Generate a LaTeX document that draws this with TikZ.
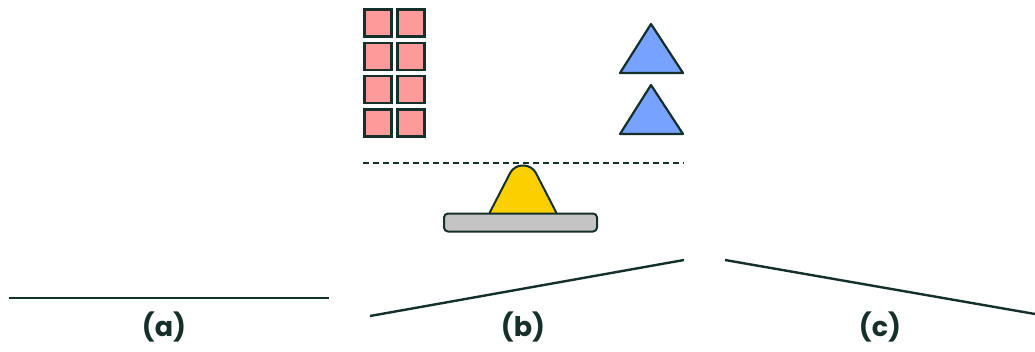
\documentclass[tikz,border=0pt]{standalone}
\usepackage{fontspec}
\setmainfont{Poppins}
\definecolor{ink}{HTML}{15302B}
\definecolor{weightpink}{HTML}{FF9A9A}
\definecolor{weightblue}{HTML}{77A2FF}
\definecolor{pivotyellow}{HTML}{FCCF00}
\definecolor{beamgray}{HTML}{C4C4C4}
\tikzset{
  block/.style={draw=ink,line width=2.6pt,fill=weightpink},
  wedge/.style={draw=ink,line width=2.2pt,fill=weightblue,line join=round},
  beam/.style={draw=ink,line width=2.4pt},
  caption/.style={font=\bfseries\fontsize{27}{30}\selectfont,text=ink}
}
\begin{document}
\begin{tikzpicture}[x=1pt,y=-1pt]
  \useasboundingbox (0,0) rectangle (1035,351);
  % stack of square weights
  \foreach \col in {0,1}
    \foreach \row in {0,1,2,3}
      \draw[block] (364.5+33*\col,9.5+33.3*\row) rectangle ++(27,27);
  % triangular weights
  \draw[wedge] (651,24) -- (683,73) -- (620,73) -- cycle;
  \draw[wedge] (651,85) -- (683,134) -- (620,134) -- cycle;
  % level line and pivot
  \draw[ink,line width=1.8pt,dash pattern=on 5.5pt off 4.5pt] (363,163) -- (684,163);
  \draw[draw=ink,line width=2pt,fill=pivotyellow,rounded corners=8pt]
    (489.5,213) -- (514,165.5) -- (532,165.5) -- (556.5,213);
  \draw[draw=ink,line width=2pt,fill=beamgray,rounded corners=4pt]
    (444,213.5) rectangle (597,231.5);
  % three beams
  \draw[beam] (9,298) -- (329,298);
  \draw[beam] (370,316) -- (684,260);
  \draw[beam] (725,260) -- (1035,314);
  \node[caption] (capa) at (164,327) {(a)};
  \node[caption] (capb) at (523,327) {(b)};
  \node[caption] (capc) at (880,327) {(c)};
\end{tikzpicture}
\end{document}
